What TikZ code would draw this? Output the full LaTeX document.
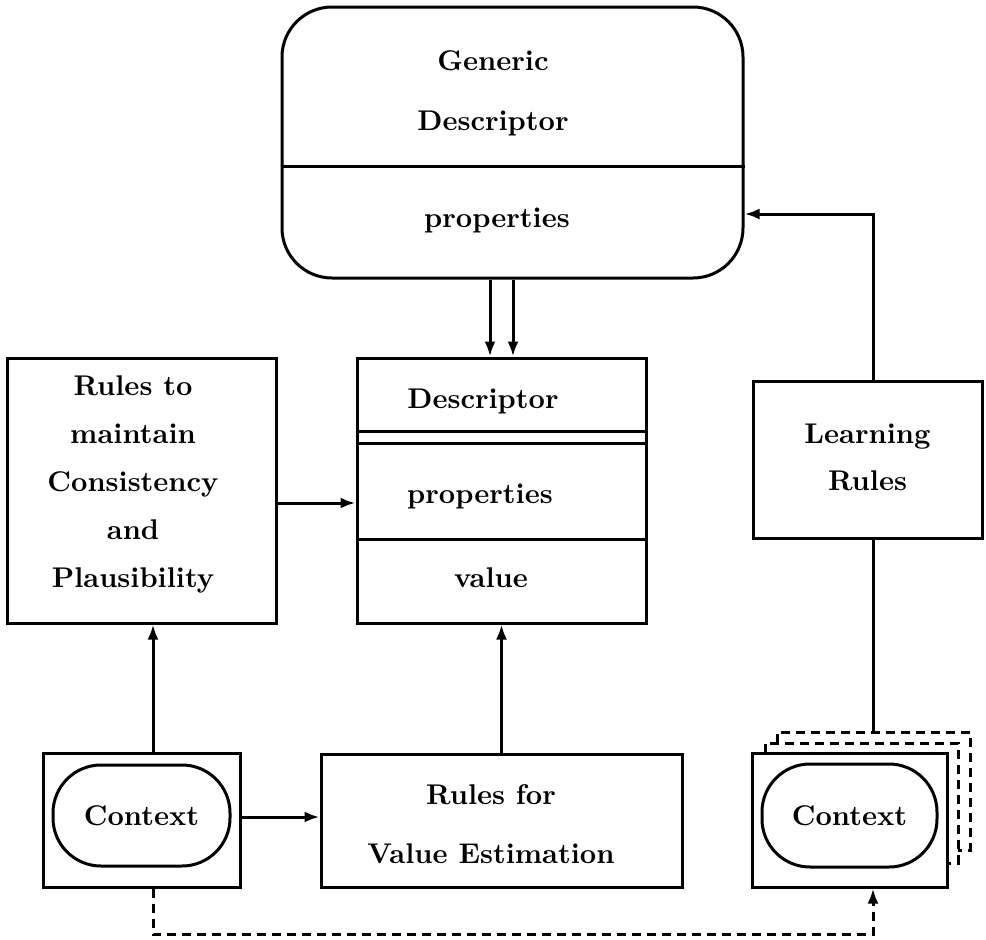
\documentclass[tikz,border=0pt]{standalone}
\usepackage{fontspec}
\usepackage{tikz}
\usetikzlibrary{arrows.meta,shapes}
\newfontfamily\boxfont{lmroman10-bold.otf}

\begin{document}
\begin{tikzpicture}
[x=1pt,y=-1pt,
>={Latex[length=15pt,width=11pt]},
line width=3pt,
box/.style={rectangle, draw, inner sep=0pt},
txt/.style={inner sep=0pt, align=center, anchor=base,
  font=\fontsize{28.5}{#1}\selectfont\boxfont},
txt/.default=48,
hint/.style={dash pattern=on 9pt off 6pt}]

  \useasboundingbox (0,0) rectangle (986,940);

  % generic descriptor
  \node[box, rounded corners=50pt, minimum width=461pt, minimum height=271pt] (gen) at (512.5,142.5) {};
  \node[txt=60] (gentitle) at (493,130) {Generic\\Descriptor};
  \node[txt] (genprop) at (497,227) {properties};
  \draw (gen.west |- 0,166) -- (gen.east |- 0,166);

  % descriptor
  \node[box, minimum width=289pt, minimum height=265pt] (desc) at (501.5,490.5) {};
  \node[txt] (desctitle) at (483,408) {Descriptor};
  \node[txt] (descprop) at (480,503) {properties};
  \node[txt] (descval) at (491,587) {value};
  \foreach \y in {431,443,539}
    \draw (desc.west |- 0,\y) -- (desc.east |- 0,\y);

  \node[box, minimum width=269pt, minimum height=265pt] (cons) at (141.5,490.5) {};
  \node[txt] (constext) at (133,587) {Rules to\\maintain\\Consistency\\and\\Plausibility};

  \node[box, minimum width=229pt, minimum height=157pt] (learn) at (867.5,459.5) {};
  \node[txt=47] (learntext) at (867.5,490) {Learning\\Rules};

  \node[box, minimum width=361pt, minimum height=133pt] (est) at (501.5,820.5) {};
  \node[txt=59] (esttext) at (491,863) {Rules for\\Value Estimation};

  % contexts
  \node[box, minimum width=197pt, minimum height=134pt] (ctxa) at (141.5,820) {};
  \node[box, rounded corners=48pt, minimum width=177pt, minimum height=101pt,
    font=\fontsize{28.5}{34}\selectfont\boxfont] (ctxain) at (141.5,815.5) {Context};
  \node[box, minimum width=195pt, minimum height=134pt] (ctxb) at (849.5,820) {};
  \node[box, rounded corners=48pt, minimum width=175pt, minimum height=103pt,
    font=\fontsize{28.5}{34}\selectfont\boxfont] (ctxbin) at (849.5,815.5) {Context};
  \foreach \l/\s/\t/\r/\b/\e in {765/753/743/958/863/947, 777/743/732/970/850/958}
    \draw[hint] (\l,\s) -- (\l,\t) -- (\r,\t) -- (\r,\b) -- (\e,\b);
  \coordinate (stack) at ([xshift=5.5pt]learn.south |- 0,732);

  % connectors
  \path[->]
    ([xshift=-11.5pt]desc.north |- gen.south) edge ([xshift=-11.5pt]desc.north)
    ([xshift=11.5pt]desc.north |- gen.south) edge ([xshift=11.5pt]desc.north)
    ([yshift=-12.5pt]cons.east) edge ([yshift=-12.5pt]cons.east -| desc.west)
    ([xshift=11.5pt]ctxa.north) edge ([xshift=11.5pt]ctxa.north |- cons.south)
    ([yshift=3pt]ctxa.east) edge ([yshift=3pt]ctxa.east -| est.west)
    (est.north) edge (desc.south);
  \draw[->] ([xshift=6pt]learn.north) |- ([yshift=-71.5pt]gen.east);
  \draw ([xshift=5.5pt]learn.south) -- (stack);
  \draw[hint,->] ([xshift=11.5pt]ctxa.south) -- ++(0,46) -| ([xshift=23.5pt]ctxb.south);

\end{tikzpicture}
\end{document}
